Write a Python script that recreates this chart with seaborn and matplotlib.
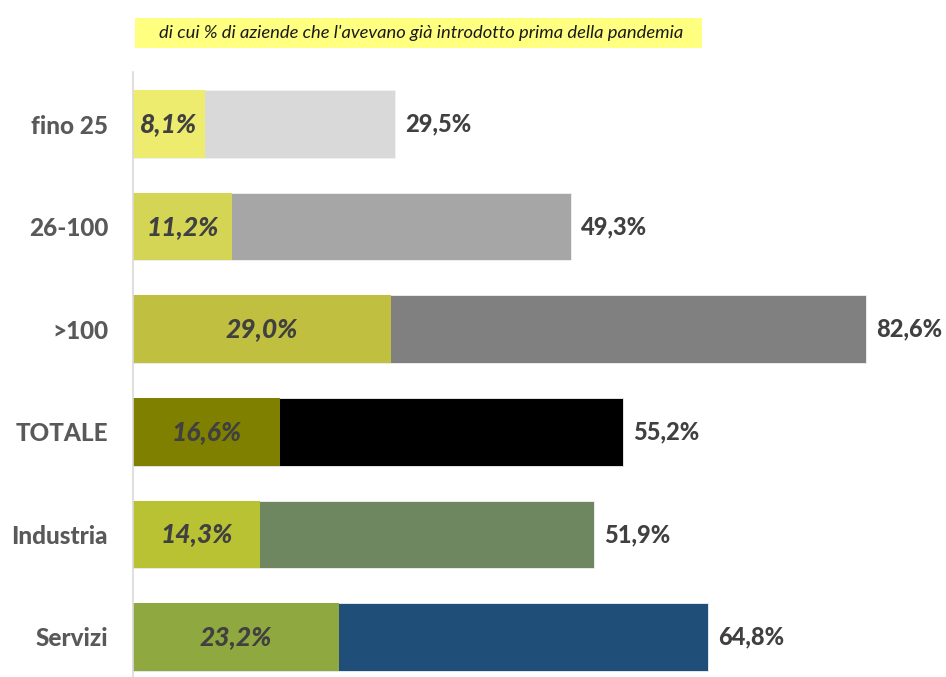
import matplotlib
matplotlib.use("Agg")
import matplotlib.pyplot as plt
import seaborn as sns
import pandas as pd
from matplotlib.patches import Rectangle

categories = ["fino 25", "26-100", ">100", "TOTALE", "Industria", "Servizi"]
totale = [29.5, 49.3, 82.6, 55.2, 51.9, 64.8]
prima_pandemia = [8.1, 11.2, 29.0, 16.6, 14.3, 23.2]
outer_colors = ["#D9D9D9", "#A6A6A6", "#808080", "#000000", "#6F8761", "#1F4E79"]
inner_colors = ["#EDEC6F", "#D4D455", "#C0BF40", "#7F7F00", "#B8C232", "#8FA83F"]
title = "di cui % di aziende che l'avevano già introdotto prima della pandemia"

sns.set_style("white")
plt.rcParams["font.family"] = ["Lato", "DejaVu Sans"]

df = pd.DataFrame({"cat": categories, "tot": totale, "pre": prima_pandemia})

W, H = 946, 677
fig = plt.figure(figsize=(W / 100, H / 100), dpi=100)
ax = fig.add_axes([133 / W, 0, 1 - 133 / W, (677 - 72) / H])

sns.barplot(data=df, x="tot", y="cat", hue="cat", palette=outer_colors, legend=False,
            width=0.66, ax=ax, order=categories, hue_order=categories, saturation=1,
            edgecolor="#F2F2F2", linewidth=0.6)
sns.barplot(data=df, x="pre", y="cat", hue="cat", palette=inner_colors, legend=False,
            width=0.66, ax=ax, order=categories, hue_order=categories, saturation=1,
            linewidth=0)

ax.set_xlim(0, (946 - 133) / 8.88)
ax.set_ylim(5 + 40 / 102.6, -52 / 102.6)

txt_col = "#404040"
for i, (t, p) in enumerate(zip(totale, prima_pandemia)):
    ax.text(t + 1.1, i, f"{t:.1f}%".replace(".", ","), va="center", ha="left",
            fontsize=17, fontweight="black", color=txt_col)
    ax.text(p / 2, i, f"{p:.1f}%".replace(".", ","), va="center", ha="center",
            fontsize=19, fontweight="black", fontstyle="italic", color=txt_col)

ax.set_xlabel("")
ax.set_ylabel("")
ax.set_xticks([])
ax.tick_params(axis="y", length=0, pad=18)
for lab in ax.get_yticklabels():
    lab.set_fontsize(17.5)
    lab.set_fontweight("black")
    lab.set_color("#595959")
for s in ["top", "right", "bottom"]:
    ax.spines[s].set_visible(False)
ax.spines["left"].set_color("#D9D9D9")
ax.spines["left"].set_linewidth(1.2)

fig.patches.append(Rectangle((135 / W, 1 - 48 / H), (702 - 135) / W, 30 / H,
                             transform=fig.transFigure, facecolor="#FFFF80", edgecolor="none"))
fig.text(421 / W, 1 - 33 / H, title, ha="center", va="center", fontsize=13.2,
         fontstyle="italic", color="#1a1a1a")

fig.savefig("out.png", dpi=100)
